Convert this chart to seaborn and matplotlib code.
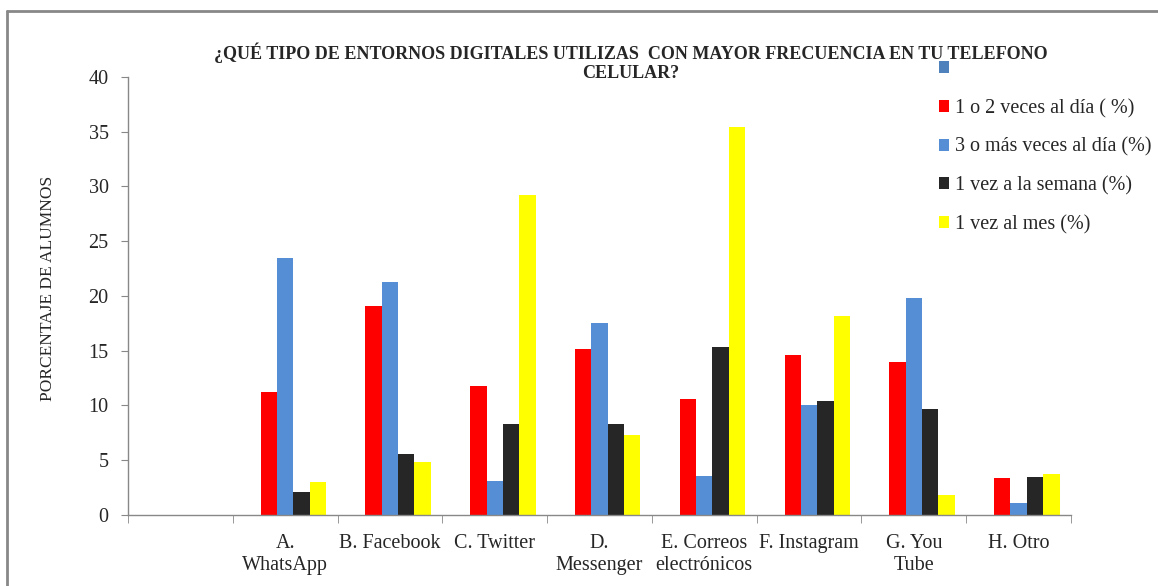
import numpy as np
import pandas as pd
import seaborn as sns
import matplotlib.pyplot as plt
from matplotlib.lines import Line2D
from matplotlib.patches import Patch
from matplotlib.ticker import FixedLocator

# data (percent of students)
categories = ['', 'A.\nWhatsApp', 'B. Facebook', 'C. Twitter', 'D.\nMessenger',
              'E. Correos\nelectrónicos', 'F. Instagram', 'G. You\nTube', 'H. Otro']
series_names = [' ', '1 o 2 veces al día ( %)', '3 o más veces al día (%)',
                '1 vez a la semana (%)', '1 vez al mes (%)']
blank = [0, 0, 0, 0, 0, 0, 0, 0, 0]
una_dos_dia = [0, 11.2, 19.1, 11.8, 15.2, 10.6, 14.6, 14.0, 3.4]
tres_mas_dia = [0, 23.5, 21.3, 3.1, 17.5, 3.6, 10.0, 19.8, 1.1]
vez_semana = [0, 2.1, 5.6, 8.3, 8.3, 15.3, 10.4, 9.7, 3.5]
vez_mes = [0, 3.0, 4.8, 29.2, 7.3, 35.4, 18.2, 1.8, 3.7]
colors = ['#4F81BD', '#FF0000', '#558ED5', '#262626', '#FFFF00']

values = [blank, una_dos_dia, tres_mas_dia, vez_semana, vez_mes]
rows = []
for name, vals in zip(series_names, values):
    for cat, v in zip(categories, vals):
        rows.append({'cat': cat, 'serie': name, 'val': v})
df = pd.DataFrame(rows)

sns.set_style("white")
plt.rcParams['font.family'] = ['Liberation Serif', 'DejaVu Serif']

fig = plt.figure(figsize=(11.58, 5.86), dpi=100)
ax = fig.add_axes([0.1105, 0.1212, 0.8144, 0.7474])

sns.barplot(ax=ax, data=df, x='cat', y='val', hue='serie', order=categories,
            hue_order=series_names, palette=colors, saturation=1, width=0.78,
            linewidth=0, errorbar=None, legend=False)

ax.set_ylim(0, 40)
ax.set_xlim(-0.5, len(categories) - 0.5)
ax.set_yticks(range(0, 41, 5))
ax.set_xlabel('')
ax.set_ylabel('')
ax.tick_params(axis='y', labelsize=14.5, length=5, color='#888888', direction='out', left=True, pad=9)
ax.tick_params(axis='x', which='major', labelsize=14.5, length=0, pad=14)
ax.xaxis.set_minor_locator(FixedLocator(np.arange(-0.5, len(categories), 1)))
ax.tick_params(axis='x', which='minor', length=6, color='#888888', direction='out', bottom=True)
for s in ['top', 'right']:
    ax.spines[s].set_visible(False)
for s in ['left', 'bottom']:
    ax.spines[s].set_color('#888888')
    ax.spines[s].set_linewidth(1)

fig.text(0.0415, 0.508, 'PORCENTAJE DE ALUMNOS', rotation=90, ha='center', va='center', fontsize=12.5)

fig.text(0.545, 0.927, '¿QUÉ TIPO DE ENTORNOS DIGITALES UTILIZAS  CON MAYOR FRECUENCIA EN TU TELEFONO\nCELULAR?',
         ha='center', va='top', fontsize=13, fontweight='bold', linespacing=1.15)

handles = [Patch(facecolor=c, edgecolor='none') for c in colors]
fig.legend(handles, series_names, loc='upper left', bbox_to_anchor=(0.8035, 0.911),
           frameon=False, fontsize=14.5, handlelength=0.53, handleheight=0.53,
           handletextpad=0.3, labelspacing=0.97, borderaxespad=0)

# outer chart frame (top and left edges visible)
fig.add_artist(Line2D([0.006, 1.0], [0.981, 0.981], transform=fig.transFigure, color='#888888', lw=2))
fig.add_artist(Line2D([0.006, 0.006], [0.0, 0.981], transform=fig.transFigure, color='#888888', lw=2))

fig.savefig('out.png', dpi=100)
